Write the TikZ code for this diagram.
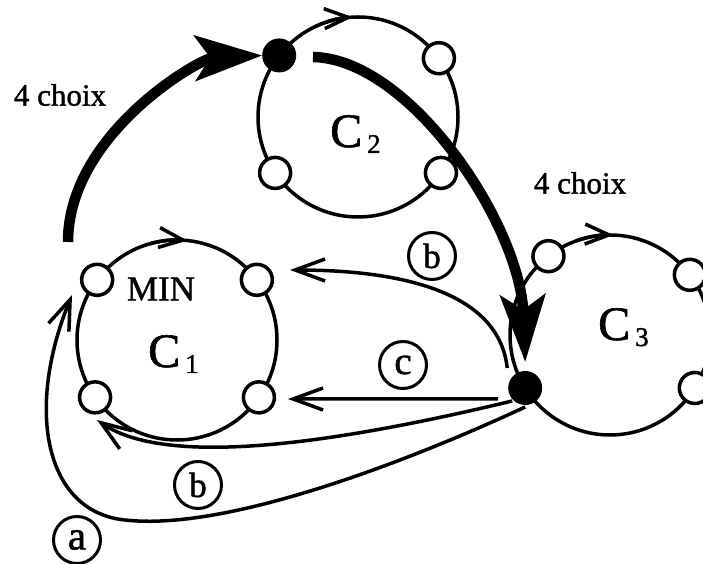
\documentclass[tikz,border=0pt]{standalone}
\usepackage{fontspec}
\setmainfont{Liberation Serif}[FakeBold=1.3]
\usetikzlibrary{arrows.meta}
\begin{document}
\begin{tikzpicture}[x=1pt,y=1pt,
 bigc/.style={circle, draw, line width=3.5pt, minimum size=200pt, inner sep=0pt, outer sep=0pt},
 smallc/.style={circle, draw, fill=white, line width=3.5pt, minimum size=31pt, inner sep=0pt, outer sep=0pt},
 dotc/.style={circle, fill=black, minimum size=34pt, inner sep=0pt, outer sep=0pt},
 bigarrow/.style={line width=10.5pt, -{Stealth[length=67pt, width=45pt, inset=15pt]}},
 thinarrow/.style={line width=3.5pt, -{Straight Barb[length=30pt, width=22pt]}},
 circarrow/.style={line width=3.5pt, -{Straight Barb[length=24pt, width=20pt]}},
 lab/.style={circle, draw, line width=3pt, minimum size=47pt, inner sep=0pt},
 choix/.style={font=\fontsize{31}{31}\selectfont, inner sep=0pt},
 cname/.style={anchor=base west, inner sep=0pt},
]
\useasboundingbox (0,0) rectangle (703,564);
\newcommand{\cbig}[1]{{\fontsize{48}{48}\selectfont C}\kern5pt\raisebox{-6pt}{\fontsize{27}{27}\selectfont #1}}

% big circles
\node[bigc] (C1) at (177,224) {};
\node[bigc] (C2) at (358,447) {};
\node[bigc] (C3) at (610,229) {};

% direction arrows on circles
\draw[circarrow] (C1.106) arc[start angle=106, end angle=84, radius=100];
\draw[circarrow] (C2.115) arc[start angle=115, end angle=93, radius=100];
\draw[circarrow] (C3.110) arc[start angle=110, end angle=88, radius=100];

% small circles
\node[smallc] (p11) at (C1.143) {};
\node[smallc] (p12) at (C1.37) {};
\node[smallc] (p13) at (C1.215) {};
\node[smallc] (p14) at (C1.-35) {};
\node[smallc] (p21) at (C2.36) {};
\node[smallc] (p22) at (C2.-34) {};
\node[smallc] (p23) at (C2.214) {};
\node[dotc]   (d2)  at (C2.142) {};
\node[smallc] (p31) at (C3.128) {};
\node[smallc] (p32) at (C3.37) {};
\node[smallc] (p33) at (C3.-32) {};
\node[dotc]   (d3)  at (C3.212) {};

% labels in circles
\node[font=\fontsize{35}{35}\selectfont, inner sep=0pt] (min) at (161,275) {MIN};
\node[cname] (n1) at (148,197) {\cbig{1}};
\node[cname] (n2) at (330,417) {\cbig{2}};
\node[cname] (n3) at (598,224) {\cbig{3}};

% texts
\node[choix] (ch1) at (60,469) {4 choix};
\node[choix] (ch2) at (580,381) {4 choix};

% circled letters
\node[lab, font=\fontsize{35}{35}\selectfont] (lb1) at (432,308) {b};
\node[lab, font=\fontsize{39}{39}\selectfont] (lc)  at (403,199) {c};
\node[lab, font=\fontsize{35}{35}\selectfont] (lb2) at (198,79) {b};
\node[lab, font=\fontsize{41}{41}\selectfont] (la)  at (77,24) {a};

% coordinates for free ends
\coordinate (t1s) at (68,322);
\coordinate (t2s) at (313,507);
\coordinate (sb1) at ([shift={(-18,20)}]d3.center);
\coordinate (sc)  at ([shift={(-27,-11)}]d3.center);
\coordinate (sb2) at ([shift={(-13,-13)}]d3.center);
\coordinate (sa)  at ([shift={(0,-19)}]d3.center);
\coordinate (eb1) at (290,294);
\coordinate (ec)  at (288,165);
\coordinate (eb2) at (97,144);
\coordinate (ea)  at (72,269);
\coordinate (ma)  at (125,44);

% thick arrows
\draw[bigarrow] (t1s) .. controls (68,430) and (200,506) .. (d2.west);
\draw[bigarrow] (t2s) .. controls (410,505) and (520,340) .. ([yshift=9pt]d3.north);

% thin arrows
\draw[thinarrow] (sb1) .. controls (500,264) and (420,294) .. (eb1);
\draw[thinarrow] (sc) -- (ec);
\draw[thinarrow] (sb2) .. controls (350,124) and (170,94) .. (eb2);
\draw[thinarrow] (sa) .. controls (420,108) and (230,32) .. (ma) .. controls (45,52) and (25,154) .. (ea);
\end{tikzpicture}
\end{document}
